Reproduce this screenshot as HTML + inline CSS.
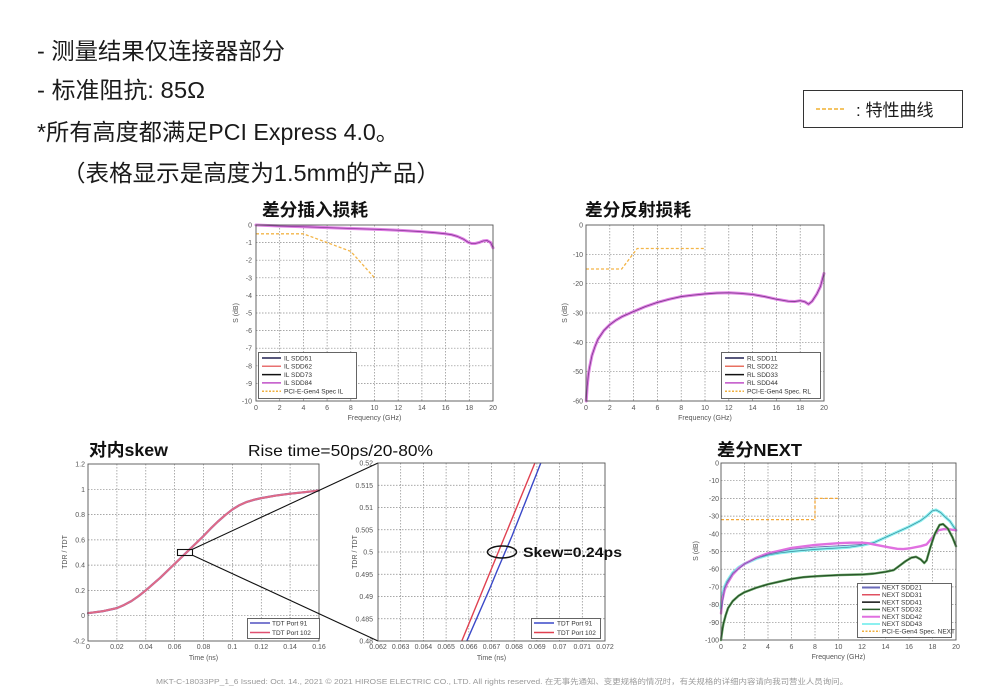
<!DOCTYPE html>
<html><head><meta charset="utf-8"><style>
html,body{margin:0;padding:0;background:#fff;}
svg{display:block;}
.t{font-family:"Liberation Sans","Noto Sans CJK SC",sans-serif;}
.tk{font-family:"Liberation Sans",sans-serif;font-size:7px;fill:#555;}
.lg{font-family:"Liberation Sans",sans-serif;font-size:6.5px;fill:#333;}
.grid{stroke:#8a8a8a;stroke-width:0.7;stroke-dasharray:1.5,1.5;fill:none;}
.box{fill:#fff;stroke:#555;stroke-width:0.9;}
.nss{vector-effect:non-scaling-stroke;fill:none;stroke-linejoin:round;stroke-linecap:round;}
</style></head><body>
<svg width="1007" height="689" viewBox="0 0 1007 689" xmlns="http://www.w3.org/2000/svg">
<rect width="1007" height="689" fill="#fff"/>

<!-- Top text -->
<g class="t" font-size="23" fill="#1a1a1a">
<text x="37" y="59" textLength="248" lengthAdjust="spacingAndGlyphs">- 测量结果仅连接器部分</text>
<text x="37" y="98" textLength="168" lengthAdjust="spacingAndGlyphs">- 标准阻抗: 85Ω</text>
<text x="37" y="140" textLength="362" lengthAdjust="spacingAndGlyphs">*所有高度都满足PCI Express 4.0。</text>
<text x="62" y="181" textLength="378" lengthAdjust="spacingAndGlyphs">（表格显示是高度为1.5mm的产品）</text>
</g>

<!-- Top-right legend -->
<rect x="803.5" y="90.5" width="159" height="37" fill="#fff" stroke="#333" stroke-width="1"/>
<line x1="816" y1="109" x2="844" y2="109" stroke="#f0b030" stroke-width="1.6" stroke-dasharray="4,2"/>
<text class="t" x="856" y="116" font-size="17" fill="#1a1a1a">: 特性曲线</text>

<!-- Titles -->
<g class="t" font-weight="bold" font-size="17.5" fill="#111">
<text x="262" y="216" textLength="106" lengthAdjust="spacingAndGlyphs">差分插入损耗</text>
<text x="585" y="216" textLength="106" lengthAdjust="spacingAndGlyphs">差分反射损耗</text>
<text x="89" y="456" textLength="79" lengthAdjust="spacingAndGlyphs">对内skew</text>
<text x="717" y="456" textLength="85" lengthAdjust="spacingAndGlyphs">差分NEXT</text>
</g>
<text class="t" x="248" y="456" font-size="16" fill="#111" textLength="185" lengthAdjust="spacingAndGlyphs">Rise time=50ps/20-80%</text>

<!-- ============ IL chart ============ -->
<rect x="256" y="225" width="237" height="176" fill="#fff"/>
<path class="grid" d="M279.7 225V401M303.4 225V401M327.1 225V401M350.8 225V401M374.5 225V401M398.2 225V401M421.9 225V401M445.6 225V401M469.3 225V401
M256 242.6H493M256 260.2H493M256 277.8H493M256 295.4H493M256 313H493M256 330.6H493M256 348.2H493M256 365.8H493M256 383.4H493"/>
<polyline points="256,233.8 303.4,233.8 350.8,251.4 374.5,277.8" fill="none" stroke="#f3b548" stroke-width="1.3" stroke-dasharray="3,2"/>
<g transform="translate(256,225) scale(11.85,-17.6)">
<polyline class="nss" stroke="#e080e4" stroke-width="3" points="0,0 1,-0.03 2,-0.06 4,-0.1 6,-0.15 8,-0.2 10,-0.24 12,-0.3 14,-0.38 15,-0.43 16,-0.5 16.5,-0.55 17,-0.65 17.5,-0.8 17.9,-0.98 18.2,-1.05 18.5,-1.05 18.8,-1.0 19.2,-0.9 19.5,-0.88 19.8,-1.0 20,-1.3"/>
<polyline class="nss" stroke="#8a3a9a" stroke-width="0.8" points="0,0 1,-0.03 2,-0.06 4,-0.1 6,-0.15 8,-0.2 10,-0.24 12,-0.3 14,-0.38 15,-0.43 16,-0.5 16.5,-0.55 17,-0.65 17.5,-0.8 17.9,-0.98 18.2,-1.05 18.5,-1.05 18.8,-1.0 19.2,-0.9 19.5,-0.88 19.8,-1.0 20,-1.3"/>
</g>
<rect x="256" y="225" width="237" height="176" fill="none" stroke="#555" stroke-width="0.9"/>
<g class="tk" text-anchor="end">
<text x="252" y="227.5">0</text><text x="252" y="245.1">-1</text><text x="252" y="262.7">-2</text><text x="252" y="280.3">-3</text><text x="252" y="297.9">-4</text><text x="252" y="315.5">-5</text><text x="252" y="333.1">-6</text><text x="252" y="350.7">-7</text><text x="252" y="368.3">-8</text><text x="252" y="385.9">-9</text><text x="252" y="403.5">-10</text>
</g>
<g class="tk" text-anchor="middle">
<text x="256" y="410">0</text><text x="279.7" y="410">2</text><text x="303.4" y="410">4</text><text x="327.1" y="410">6</text><text x="350.8" y="410">8</text><text x="374.5" y="410">10</text><text x="398.2" y="410">12</text><text x="421.9" y="410">14</text><text x="445.6" y="410">16</text><text x="469.3" y="410">18</text><text x="493" y="410">20</text>
<text x="374.5" y="420">Frequency (GHz)</text>
<text transform="translate(238,313) rotate(-90)">S (dB)</text>
</g>
<rect class="box" x="258.5" y="352.5" width="98" height="46"/>
<g stroke-width="1.5">
<line x1="262" y1="358" x2="281" y2="358" stroke="#202050"/>
<line x1="262" y1="366.3" x2="281" y2="366.3" stroke="#e87070"/>
<line x1="262" y1="374.6" x2="281" y2="374.6" stroke="#111"/>
<line x1="262" y1="382.9" x2="281" y2="382.9" stroke="#c050c8"/>
<line x1="262" y1="391.2" x2="281" y2="391.2" stroke="#f0b040" stroke-dasharray="2,1.5"/>
</g>
<g class="lg">
<text x="284" y="360.3">IL SDD51</text><text x="284" y="368.6">IL SDD62</text><text x="284" y="376.9">IL SDD73</text><text x="284" y="385.2">IL SDD84</text><text x="284" y="393.5">PCI-E-Gen4 Spec IL</text>
</g>

<!-- ============ RL chart ============ -->
<rect x="586" y="225" width="238" height="176" fill="#fff"/>
<path class="grid" d="M609.8 225V401M633.6 225V401M657.4 225V401M681.2 225V401M705 225V401M728.8 225V401M752.6 225V401M776.4 225V401M800.2 225V401
M586 254.3H824M586 283.7H824M586 313H824M586 342.3H824M586 371.7H824"/>
<polyline points="586,269 621.7,269 637.2,248.5 705,248.5" fill="none" stroke="#f3b548" stroke-width="1.3" stroke-dasharray="3,2"/>
<g transform="translate(586,225) scale(11.9,-2.933)">
<polyline class="nss" stroke="#e080e4" stroke-width="3" points="0.02,-60 0.1,-55 0.2,-51 0.3,-48.5 0.5,-44.5 0.75,-41.5 1,-39 1.5,-36 2,-34 2.5,-32.5 3,-31.3 4,-29.5 5,-27.8 6,-26.4 7,-25.3 8,-24.4 9,-23.9 10,-23.5 11,-23.2 12,-23.1 13,-23.3 14,-23.7 15,-24.4 16,-25.3 17,-26 17.5,-26.1 18,-25.8 18.4,-26.2 18.7,-27 19,-26 19.4,-23.5 19.7,-21 20,-16.5"/>
<polyline class="nss" stroke="#7a3a8a" stroke-width="0.8" points="0.02,-60 0.1,-55 0.2,-51 0.3,-48.5 0.5,-44.5 0.75,-41.5 1,-39 1.5,-36 2,-34 2.5,-32.5 3,-31.3 4,-29.5 5,-27.8 6,-26.4 7,-25.3 8,-24.4 9,-23.9 10,-23.5 11,-23.2 12,-23.1 13,-23.3 14,-23.7 15,-24.4 16,-25.3 17,-26 17.5,-26.1 18,-25.8 18.4,-26.2 18.7,-27 19,-26 19.4,-23.5 19.7,-21 20,-16.5"/>
</g>
<rect x="586" y="225" width="238" height="176" fill="none" stroke="#555" stroke-width="0.9"/>
<g class="tk" text-anchor="end">
<text x="583" y="227.5">0</text><text x="583" y="256.8">-10</text><text x="583" y="286.2">-20</text><text x="583" y="315.5">-30</text><text x="583" y="344.8">-40</text><text x="583" y="374.2">-50</text><text x="583" y="403.5">-60</text>
</g>
<g class="tk" text-anchor="middle">
<text x="586" y="410">0</text><text x="609.8" y="410">2</text><text x="633.6" y="410">4</text><text x="657.4" y="410">6</text><text x="681.2" y="410">8</text><text x="705" y="410">10</text><text x="728.8" y="410">12</text><text x="752.6" y="410">14</text><text x="776.4" y="410">16</text><text x="800.2" y="410">18</text><text x="824" y="410">20</text>
<text x="705" y="420">Frequency (GHz)</text>
<text transform="translate(567,313) rotate(-90)">S (dB)</text>
</g>
<rect class="box" x="721.5" y="352.5" width="99" height="46"/>
<g stroke-width="1.5">
<line x1="725" y1="358" x2="744" y2="358" stroke="#202050"/>
<line x1="725" y1="366.3" x2="744" y2="366.3" stroke="#e87060"/>
<line x1="725" y1="374.6" x2="744" y2="374.6" stroke="#111"/>
<line x1="725" y1="382.9" x2="744" y2="382.9" stroke="#c050c8"/>
<line x1="725" y1="391.2" x2="744" y2="391.2" stroke="#f0b040" stroke-dasharray="2,1.5"/>
</g>
<g class="lg">
<text x="747" y="360.3">RL SDD11</text><text x="747" y="368.6">RL SDD22</text><text x="747" y="376.9">RL SDD33</text><text x="747" y="385.2">RL SDD44</text><text x="747" y="393.5">PCI-E-Gen4 Spec. RL</text>
</g>

<!-- ============ Skew chart ============ -->
<rect x="88" y="464" width="231" height="177" fill="#fff"/>
<path class="grid" d="M116.9 464V641M145.8 464V641M174.6 464V641M203.5 464V641M232.4 464V641M261.3 464V641M290.1 464V641
M88 489.3H319M88 514.6H319M88 539.9H319M88 565.1H319M88 590.4H319M88 615.7H319"/>
<g transform="translate(88,615.7) scale(1443.75,-126.43)">
<polyline class="nss" stroke="#5050b8" stroke-width="2.2" points="0,0.02 0.01,0.035 0.02,0.06 0.025,0.085 0.03,0.115 0.035,0.155 0.04,0.2 0.045,0.25 0.05,0.3 0.055,0.355 0.06,0.41 0.065,0.465 0.07,0.52 0.075,0.575 0.08,0.63 0.085,0.69 0.09,0.745 0.095,0.795 0.1,0.84 0.105,0.875 0.11,0.9 0.115,0.917 0.12,0.93 0.13,0.95 0.14,0.965 0.15,0.977 0.16,0.99"/>
<polyline class="nss" stroke="#e06a86" stroke-width="2" points="0,0.02 0.01,0.035 0.02,0.06 0.025,0.085 0.03,0.115 0.035,0.155 0.04,0.2 0.045,0.25 0.05,0.3 0.055,0.355 0.06,0.41 0.065,0.465 0.07,0.52 0.075,0.575 0.08,0.63 0.085,0.69 0.09,0.745 0.095,0.795 0.1,0.84 0.105,0.875 0.11,0.9 0.115,0.917 0.12,0.93 0.13,0.95 0.14,0.965 0.15,0.977 0.16,0.99"/>
</g>
<rect x="88" y="464" width="231" height="177" fill="none" stroke="#555" stroke-width="0.9"/>
<g class="tk" text-anchor="end">
<text x="85" y="466.5">1.2</text><text x="85" y="491.8">1</text><text x="85" y="517.1">0.8</text><text x="85" y="542.4">0.6</text><text x="85" y="567.6">0.4</text><text x="85" y="592.9">0.2</text><text x="85" y="618.2">0</text><text x="85" y="643.5">-0.2</text>
</g>
<g class="tk" text-anchor="middle">
<text x="88" y="649">0</text><text x="116.9" y="649">0.02</text><text x="145.8" y="649">0.04</text><text x="174.6" y="649">0.06</text><text x="203.5" y="649">0.08</text><text x="232.4" y="649">0.1</text><text x="261.3" y="649">0.12</text><text x="290.1" y="649">0.14</text><text x="319" y="649">0.16</text>
<text x="203.5" y="660">Time (ns)</text>
<text transform="translate(67,552) rotate(-90)">TDR / TDT</text>
</g>
<rect class="box" x="247.5" y="618.5" width="72" height="20"/>
<line x1="250" y1="623" x2="270" y2="623" stroke="#5050c0" stroke-width="1.5"/>
<line x1="250" y1="632.5" x2="270" y2="632.5" stroke="#e05070" stroke-width="1.5"/>
<g class="lg"><text x="272" y="625.3">TDT Port 91</text><text x="272" y="634.8">TDT Port 102</text></g>

<!-- zoom box and connector lines -->
<rect x="177.5" y="549.5" width="15" height="6" fill="none" stroke="#111" stroke-width="1.1"/>
<line x1="192" y1="549.5" x2="378" y2="463" stroke="#111" stroke-width="1.1"/>
<line x1="192" y1="555" x2="378" y2="641" stroke="#111" stroke-width="1.1"/>

<!-- ============ Zoomed skew chart ============ -->
<rect x="378" y="463" width="227" height="178" fill="#fff"/>
<path class="grid" d="M400.7 463V641M423.4 463V641M446.1 463V641M468.8 463V641M491.5 463V641M514.2 463V641M536.9 463V641M559.6 463V641M582.3 463V641
M378 485.25H605M378 507.5H605M378 529.75H605M378 552H605M378 574.25H605M378 596.5H605M378 618.75H605"/>
<polyline points="466.8,641 490,588 497,571 512,536 540.8,463" fill="none" stroke="#3a48c8" stroke-width="1.4"/>
<line x1="461.8" y1="641" x2="534.9" y2="463" stroke="#e04050" stroke-width="1.4"/>
<rect x="378" y="463" width="227" height="178" fill="none" stroke="#555" stroke-width="0.9"/>
<g class="tk" text-anchor="end">
<text x="373" y="465.5">0.52</text><text x="373" y="487.8">0.515</text><text x="373" y="510">0.51</text><text x="373" y="532.3">0.505</text><text x="373" y="554.5">0.5</text><text x="373" y="576.8">0.495</text><text x="373" y="599">0.49</text><text x="373" y="621.3">0.485</text><text x="373" y="643.5">0.48</text>
</g>
<g class="tk" text-anchor="middle">
<text x="378" y="649">0.062</text><text x="400.7" y="649">0.063</text><text x="423.4" y="649">0.064</text><text x="446.1" y="649">0.065</text><text x="468.8" y="649">0.066</text><text x="491.5" y="649">0.067</text><text x="514.2" y="649">0.068</text><text x="536.9" y="649">0.069</text><text x="559.6" y="649">0.07</text><text x="582.3" y="649">0.071</text><text x="605" y="649">0.072</text>
<text x="491.5" y="660">Time (ns)</text>
<text transform="translate(357,552) rotate(-90)">TDR / TDT</text>
</g>
<rect class="box" x="531.5" y="618.5" width="69" height="20"/>
<line x1="534" y1="623" x2="554" y2="623" stroke="#3a48c8" stroke-width="1.5"/>
<line x1="534" y1="632.5" x2="554" y2="632.5" stroke="#e04050" stroke-width="1.5"/>
<g class="lg"><text x="557" y="625.3">TDT Port 91</text><text x="557" y="634.8">TDT Port 102</text></g>
<ellipse cx="502" cy="552" rx="14.5" ry="6" fill="none" stroke="#111" stroke-width="1.5"/>
<text class="t" x="523" y="557" font-size="14" font-weight="bold" fill="#111" textLength="99" lengthAdjust="spacingAndGlyphs">Skew=0.24ps</text>

<!-- ============ NEXT chart ============ -->
<rect x="721" y="463" width="235" height="177" fill="#fff"/>
<path class="grid" d="M744.5 463V640M768 463V640M791.5 463V640M815 463V640M838.5 463V640M862 463V640M885.5 463V640M909 463V640M932.5 463V640
M721 480.7H956M721 498.4H956M721 516.1H956M721 533.8H956M721 551.5H956M721 569.2H956M721 586.9H956M721 604.6H956M721 622.3H956"/>
<polyline points="721,519.6 815,519.6 815,498.4 838.5,498.4" fill="none" stroke="#f3a838" stroke-width="1.3" stroke-dasharray="3,2"/>
<g transform="translate(721,463) scale(11.75,-1.77)">
<polyline class="nss" stroke="#8cf0f0" stroke-width="3" points="0,-82 0.1,-75 0.3,-70 0.5,-67 1,-62 1.5,-59 2,-57 3,-54 4,-52 5,-50.8 6,-50 8,-48.8 10,-48 11,-47.5 12,-46.5 13,-45 14,-42 15,-39 16,-36 17,-32.5 17.5,-30 18,-27 18.3,-26.5 18.7,-28 19,-30 19.5,-33 20,-38"/>
<polyline class="nss" stroke="#3a8a9a" stroke-width="0.7" points="0,-82 0.1,-75 0.3,-70 0.5,-67 1,-62 1.5,-59 2,-57 3,-54 4,-52 5,-50.8 6,-50 8,-48.8 10,-48 11,-47.5 12,-46.5 13,-45 14,-42 15,-39 16,-36 17,-32.5 17.5,-30 18,-27 18.3,-26.5 18.7,-28 19,-30 19.5,-33 20,-38"/>
<polyline class="nss" stroke="#e070e0" stroke-width="2.4" points="0,-85 0.1,-78 0.3,-72 0.5,-68.5 1,-63 1.5,-59.5 2,-57 3,-53.5 4,-51 5,-49.5 6,-48 8,-46.3 10,-45.3 11,-45 12,-45 12.5,-45.3 13,-46 14,-47.3 15,-48.5 15.5,-48.6 16,-48.3 17,-47 17.5,-46 18,-42 18.5,-38 19,-37.3 19.5,-37.5 20,-38"/>
<polyline class="nss" stroke="#6a6ab0" stroke-width="0.8" points="0,-84 0.3,-71 0.5,-68 1,-62.5 2,-57 3,-53.8 4,-51.5 6,-48.8 8,-47.5 10,-46.8 12,-46"/>
<polyline class="nss" stroke="#5a9a5a" stroke-width="2.4" points="0,-100 0.1,-95 0.2,-91 0.4,-86 0.6,-82 1,-78 1.5,-75 2,-73 3,-70.5 4,-68.5 5,-67 6,-65.5 7,-64.5 8,-64 10,-63.3 12,-63 13,-62.5 14,-61.5 14.7,-60.5 15.2,-58 15.7,-55.5 16.2,-53.5 16.6,-53 17,-54.5 17.3,-56.5 17.5,-55 17.8,-48 18.2,-40 18.6,-35 18.9,-34.5 19.3,-37 19.7,-42 20,-47"/>
<polyline class="nss" stroke="#1a3a1a" stroke-width="0.8" points="0,-100 0.1,-95 0.2,-91 0.4,-86 0.6,-82 1,-78 1.5,-75 2,-73 3,-70.5 4,-68.5 5,-67 6,-65.5 7,-64.5 8,-64 10,-63.3 12,-63 13,-62.5 14,-61.5 14.7,-60.5 15.2,-58 15.7,-55.5 16.2,-53.5 16.6,-53 17,-54.5 17.3,-56.5 17.5,-55 17.8,-48 18.2,-40 18.6,-35 18.9,-34.5 19.3,-37 19.7,-42 20,-47"/>
</g>
<rect x="721" y="463" width="235" height="177" fill="none" stroke="#555" stroke-width="0.9"/>
<g class="tk" text-anchor="end">
<text x="719" y="465.5">0</text><text x="719" y="483.2">-10</text><text x="719" y="500.9">-20</text><text x="719" y="518.6">-30</text><text x="719" y="536.3">-40</text><text x="719" y="554">-50</text><text x="719" y="571.7">-60</text><text x="719" y="589.4">-70</text><text x="719" y="607.1">-80</text><text x="719" y="624.8">-90</text><text x="719" y="642.5">-100</text>
</g>
<g class="tk" text-anchor="middle">
<text x="721" y="649">0</text><text x="744.5" y="649">2</text><text x="768" y="649">4</text><text x="791.5" y="649">6</text><text x="815" y="649">8</text><text x="838.5" y="649">10</text><text x="862" y="649">12</text><text x="885.5" y="649">14</text><text x="909" y="649">16</text><text x="932.5" y="649">18</text><text x="956" y="649">20</text>
<text x="838.5" y="659">Frequency (GHz)</text>
<text transform="translate(698,551) rotate(-90)">S (dB)</text>
</g>
<rect class="box" x="857.5" y="583.5" width="94" height="54"/>
<g stroke-width="1.5">
<line x1="862" y1="587.5" x2="880" y2="587.5" stroke="#6a6ab8" stroke-width="2"/>
<line x1="862" y1="594.8" x2="880" y2="594.8" stroke="#e05060"/>
<line x1="862" y1="602.1" x2="880" y2="602.1" stroke="#111"/>
<line x1="862" y1="609.4" x2="880" y2="609.4" stroke="#2a5a2a"/>
<line x1="862" y1="616.7" x2="880" y2="616.7" stroke="#e070e0" stroke-width="2"/>
<line x1="862" y1="624" x2="880" y2="624" stroke="#8cf0f0" stroke-width="2"/>
<line x1="862" y1="631.3" x2="880" y2="631.3" stroke="#f0b040" stroke-dasharray="2,1.5"/>
</g>
<g class="lg" font-size="6">
<text x="882" y="589.7">NEXT SDD21</text><text x="882" y="597">NEXT SDD31</text><text x="882" y="604.3">NEXT SDD41</text><text x="882" y="611.6">NEXT SDD32</text><text x="882" y="618.9">NEXT SDD42</text><text x="882" y="626.2">NEXT SDD43</text><text x="882" y="633.5">PCI-E-Gen4 Spec. NEXT</text>
</g>

<!-- Footer -->
<text class="t" x="156" y="684" font-size="7.5" fill="#999" textLength="692" lengthAdjust="spacingAndGlyphs">MKT-C-18033PP_1_6   Issued: Oct. 14., 2021    © 2021 HIROSE ELECTRIC CO., LTD. All rights reserved.    在无事先通知、变更规格的情况时，有关规格的详细内容请向我司营业人员询问。</text>
</svg>
</body></html>
